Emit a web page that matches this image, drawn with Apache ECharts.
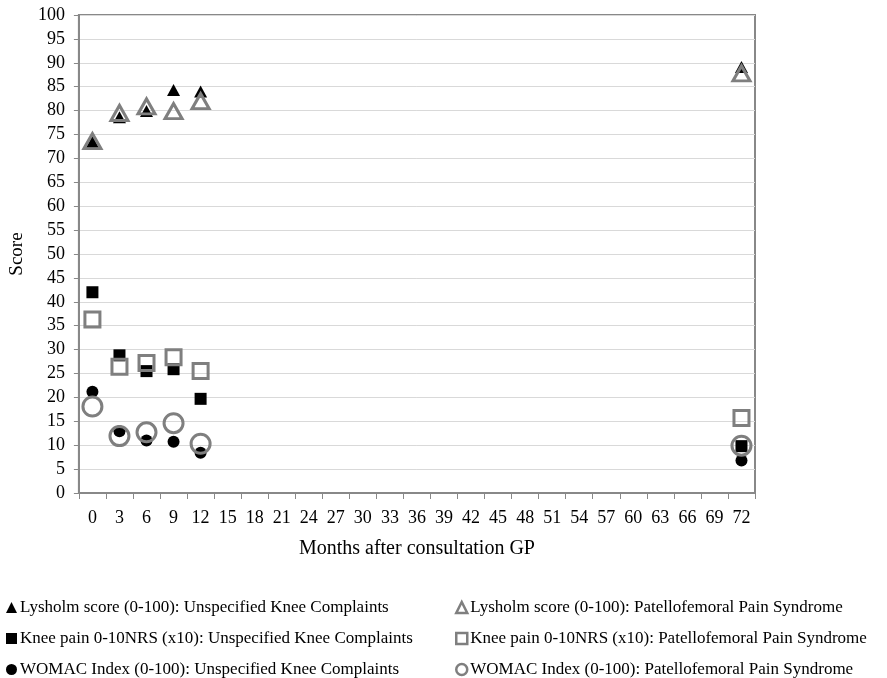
<!DOCTYPE html>
<html><head><meta charset="utf-8">
<script src="https://cdn.jsdelivr.net/npm/echarts@6/dist/echarts.min.js"></script>
<style>html,body{margin:0;padding:0;background:#fff}#c{width:887px;height:678px}</style>
</head><body><div id="c"></div>
<script>
const categories = ['0','3','6','9','12','15','18','21','24','27','30','33','36','39','42','45','48','51','54','57','60','63','66','69','72'];
const months = ['0','3','6','9','12','72'];
const lysholmUKC = [73.5, 78.6, 79.9, 84.3, 84.0, 89.1];
const lysholmPFPS = [73.6, 79.5, 80.9, 79.9, 82.0, 87.8];
const painUKC = [42.0, 28.8, 25.5, 25.9, 19.7, 9.8];
const painPFPS = [36.3, 26.4, 27.2, 28.4, 25.5, 15.7];
const womacUKC = [21.2, 12.9, 11.0, 10.7, 8.4, 6.8];
const womacPFPS = [18.1, 11.9, 12.7, 14.6, 10.3, 9.9];
const names = [
  'Lysholm score (0-100): Unspecified Knee Complaints',
  'Lysholm score (0-100): Patellofemoral Pain Syndrome',
  'Knee pain 0-10NRS (x10): Unspecified Knee Complaints',
  'Knee pain 0-10NRS (x10): Patellofemoral Pain Syndrome',
  'WOMAC Index (0-100): Unspecified Knee Complaints',
  'WOMAC Index (0-100): Patellofemoral Pain Syndrome'
];
const pair = arr => months.map((m, i) => [m, arr[i]]);
const FONT = 'Liberation Serif';
const GRAY = '#7f7f7f';
function solid(name, data, symbol, size) {
  return {name, type: 'scatter', data: pair(data), symbol, symbolSize: size,
    itemStyle: {color: '#000', opacity: 1}, z: 3};
}
function hollow(name, data, symbol, size) {
  return {name, type: 'scatter', data: pair(data), symbol, symbolSize: size,
    itemStyle: {color: 'rgba(255,255,255,0)', borderColor: GRAY, borderWidth: 3, opacity: 1}, z: 4};
}
const legendText = {fontFamily: FONT, fontSize: 17, color: '#000', lineHeight: 17, padding: [0, 0, 0, -2]};
const chart = echarts.init(document.getElementById('c'));
chart.setOption({
  animation: false,
  textStyle: {fontFamily: FONT},
  grid: {left: 78, right: 132, top: 15, bottom: 185, show: true, borderColor: '#888', borderWidth: 2, backgroundColor: 'transparent'},
  xAxis: {
    type: 'category', data: categories, boundaryGap: true,
    name: 'Months after consultation GP', nameLocation: 'middle', nameGap: 46,
    nameTextStyle: {fontFamily: FONT, fontSize: 20, color: '#000'},
    axisLine: {lineStyle: {color: '#888', width: 2}},
    axisTick: {show: true, alignWithLabel: false, length: 6, lineStyle: {color: '#888'}},
    axisLabel: {fontFamily: FONT, fontSize: 18, color: '#000', interval: 0, margin: 16},
    splitLine: {show: false}
  },
  yAxis: {
    type: 'value', min: 0, max: 100, interval: 5,
    name: 'Score', nameLocation: 'middle', nameGap: 48, nameRotate: 90,
    nameTextStyle: {fontFamily: FONT, fontSize: 19, color: '#000'},
    axisLine: {show: true, lineStyle: {color: '#888', width: 2}},
    axisTick: {show: true, length: 5, lineStyle: {color: '#888'}},
    axisLabel: {fontFamily: FONT, fontSize: 18, color: '#000', margin: 14},
    splitLine: {show: true, lineStyle: {color: '#d9d9d9', width: 1}}
  },
  legend: [
    {left: 6, top: 599, orient: 'vertical', itemGap: 14, itemWidth: 11, itemHeight: 11,
     textStyle: legendText, data: [names[0], names[2], names[4]], padding: 0, itemStyle: {borderWidth: 2.5}},
    {left: 455, top: 599, orient: 'vertical', itemGap: 14, itemWidth: 11, itemHeight: 11,
     textStyle: legendText, data: [names[1], names[3], names[5]], padding: 0, itemStyle: {borderWidth: 2.5}}
  ],
  series: [
    solid(names[0], lysholmUKC, 'triangle', [13, 12]),
    hollow(names[1], lysholmPFPS, 'triangle', [17, 15]),
    solid(names[2], painUKC, 'rect', 12),
    hollow(names[3], painPFPS, 'rect', 15),
    solid(names[4], womacUKC, 'circle', 12),
    hollow(names[5], womacPFPS, 'circle', 19)
  ]
});
</script></body></html>
